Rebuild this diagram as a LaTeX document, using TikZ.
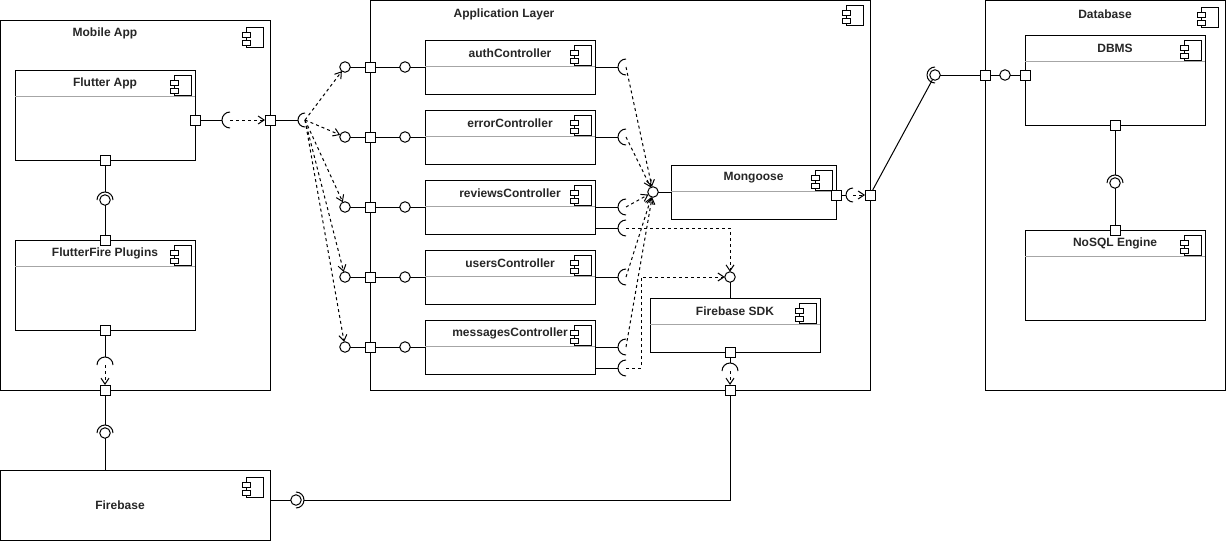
\documentclass[tikz,border=0pt]{standalone}
\usepackage{fontspec}
\setmainfont{Liberation Sans}
\usetikzlibrary{arrows.meta,calc}
\tikzset{
  base/.style={line width=1pt, draw=black},
  compbox/.style={base, fill=white, anchor=north west, inner sep=0pt, outer sep=0pt},
  sepline/.style={line width=1pt, draw=black!35},
  titletext/.style={font=\bfseries\fontsize{12pt}{14pt}\selectfont, text=black!85, inner sep=0pt},
  port/.style={base, fill=white, rectangle, minimum size=10pt, inner sep=0pt, outer sep=0pt},
  ball/.style={base, fill=white, circle, minimum size=10.5pt, inner sep=0pt, outer sep=0pt},
  wire/.style={base},
  sock/.style={base},
  dep/.style={base, dash pattern=on 3pt off 3pt, -{Straight Barb[length=6pt,width=8pt]}},
  compicon/.pic={
    \draw[base, fill=white] (-17,0) rectangle (0,20);
    \draw[base, fill=white] (-21,5) rectangle (-13,10);
    \draw[base, fill=white] (-21,13) rectangle (-13,18);
  }
}
\newcommand\InnerComp[6]{%
  \node[compbox, minimum width=#4pt, minimum height=#5pt] (#1) at (#2,#3) {};
  \draw[sepline] ([yshift=-26pt]#1.north west) -- ([yshift=-26pt]#1.north east);
  \node[titletext] (#1-t) at ([yshift=-13pt]#1.north) {#6};
  \pic at ([xshift=-4pt,yshift=-5pt]#1.north east) {compicon};
}
\newcommand\SockLeft[2]{\draw[sock] ($(#1)+(0,-#2)$) arc[start angle=90,end angle=270,radius=#2pt];}
\newcommand\SockTop[2]{\draw[sock] ($(#1)+(#2,0)$) arc[start angle=0,end angle=180,radius=#2pt];}
\newcommand\SockRight[2]{\draw[sock] ($(#1)+(0,#2)$) arc[start angle=-90,end angle=90,radius=#2pt];}
\begin{document}
\begin{tikzpicture}[x=1pt,y=-1pt]
\useasboundingbox (0,0) rectangle (1226,541);
% ---------- outer containers ----------
\node[compbox, minimum width=269.5pt, minimum height=370pt] (MA) at (0.5,20) {};
\node[titletext] (MA-t) at (105,33) {Mobile App};
\pic at (263,27) {compicon};
\node[compbox, minimum width=500pt, minimum height=389.5pt] (AL) at (370,0.5) {};
\node[titletext] (AL-t) at (504,14) {Application Layer};
\pic at (863,5) {compicon};
\node[compbox, minimum width=240pt, minimum height=389.5pt] (DB) at (985,0.5) {};
\node[titletext] (DB-t) at (1105,14) {Database};
\pic at (1218,7) {compicon};
\node[compbox, minimum width=269.5pt, minimum height=70pt] (FB) at (0.5,470) {};
\node[titletext] (FB-t) at (120,505) {Firebase};
\pic at (263,477) {compicon};
% ---------- inner components ----------
\InnerComp{FA}{15}{70}{180}{90}{Flutter App}
\InnerComp{FF}{15}{240}{180}{90}{FlutterFire Plugins}
\InnerComp{C1}{425}{40}{170}{54}{authController}
\InnerComp{C2}{425}{110}{170}{54}{errorController}
\InnerComp{C3}{425}{180}{170}{54}{reviewsController}
\InnerComp{C4}{425}{250}{170}{54}{usersController}
\InnerComp{C5}{425}{320}{170}{54}{messagesController}
\InnerComp{MG}{671}{165}{165}{54}{Mongoose}
\InnerComp{SDK}{650}{298}{170}{54}{Firebase SDK}
\InnerComp{DBMS}{1025}{35}{180}{90}{DBMS}
\InnerComp{NS}{1025}{230}{180}{90}{NoSQL Engine}
% ---------- ports ----------
\node[port] (pFAr) at (195,120) {};
\node[port] (pFAb) at (105,160) {};
\node[port] (pMAr) at (270,120) {};
\node[port] (pFFt) at (105,240) {};
\node[port] (pFFb) at (105,330) {};
\node[port] (pMAb) at (105,390) {};
\node[port] (pMGr) at (836,195) {};
\node[port] (pALr) at (870,195) {};
\node[port] (pSDKb) at (730,352) {};
\node[port] (pALb) at (730,390) {};
\node[port] (pDBl) at (985,75) {};
\node[port] (pDBMSl) at (1025,75) {};
\node[port] (pDBMSb) at (1115,125) {};
\node[port] (pNSt) at (1115,230) {};
\foreach \i/\y in {1/67,2/137,3/207,4/277,5/347}{
  \node[port] (pAL\i) at (370,\y) {};
  \node[ball] (L\i) at (345,\y) {};
  \node[ball] (R\i) at (405,\y) {};
  \coordinate (c\i) at (626,\y);
}
% ---------- provided interfaces / balls ----------
\node[ball] (M) at (653,192) {};
\node[ball] (FS) at (730,277) {};
\node[ball] (DBc) at (1005,75) {};
\node[ball] (b1) at (105,200) {};
\node[ball] (b2) at (105,433) {};
\node[ball] (b3) at (296,500) {};
\node[ball] (b4) at (935,75) {};
\node[ball] (b5) at (1115,183) {};
% ---------- socket coordinates ----------
\coordinate (s1) at (230,120);
\coordinate (s2) at (305,120);
\coordinate (s3) at (105,365);
\coordinate (s4) at (730,371);
\coordinate (s5) at (853,195);
\coordinate (c3b) at (626,228);
\coordinate (c5b) at (626,368);
% ---------- Mobile app wiring ----------
\draw[wire] (pFAr) -- ($(s1)+(-8,0)$);
\SockLeft{s1}{8}
\draw[dep] (s1) -- (pMAr);
\draw[wire] (pMAr) -- ($(s2)+(-7,0)$);
\SockLeft{s2}{7}
\draw[wire] (pFAb) -- ($(b1)+(0,-8)$);
\SockTop{b1}{8}
\draw[wire] (b1) -- (pFFt);
\draw[wire] (pFFb) -- ($(s3)+(0,-8)$);
\SockTop{s3}{8}
\draw[dep] (s3) -- (pMAb);
\draw[wire] (pMAb) -- ($(b2)+(0,-8)$);
\SockTop{b2}{8}
\draw[wire] (b2) -- (b2 |- FB.north);
% ---------- controllers ----------
\foreach \i in {1,...,5}{
  \draw[dep] (s2) -- (L\i);
  \draw[wire] (L\i) -- (pAL\i);
  \draw[wire] (pAL\i) -- (R\i);
  \draw[wire] (R\i) -- (C\i.west);
  \draw[wire] (C\i.east) -- ($(c\i)+(-8,0)$);
  \SockLeft{c\i}{8}
  \draw[dep] (c\i) -- (M);
}
\draw[wire] (c3b -| C3.east) -- ($(c3b)+(-8,0)$);
\SockLeft{c3b}{8}
\draw[wire] (c5b -| C5.east) -- ($(c5b)+(-8,0)$);
\SockLeft{c5b}{8}
\draw[dep] (c3b) -| (FS);
\draw[dep] (c5b) -- ++(15,0) |- (FS);
% ---------- Mongoose / SDK ----------
\draw[wire] (M) -- (MG.west);
\draw[wire] (FS) -- (FS |- SDK.north);
\draw[wire] (pMGr) -- ($(s5)+(-7,0)$);
\SockLeft{s5}{7}
\draw[dep] (s5) -- (pALr);
\draw[wire] (pSDKb) -- ($(s4)+(0,-8)$);
\SockTop{s4}{8}
\draw[dep] (s4) -- (pALb);
\draw[wire] ($(b3)+(8,0)$) -| (pALb);
\SockRight{b3}{8}
\draw[wire] (b3) -- (b3 -| FB.east);
% ---------- Database ----------
\draw[wire] (pALr) -- (b4);
\SockLeft{b4}{8}
\draw[wire] (b4) -- (pDBl);
\draw[wire] (pDBl) -- (DBc);
\draw[wire] (DBc) -- (pDBMSl);
\draw[wire] (pDBMSb) -- ($(b5)+(0,-8)$);
\SockTop{b5}{8}
\draw[wire] (b5) -- (pNSt);
\end{tikzpicture}
\end{document}
